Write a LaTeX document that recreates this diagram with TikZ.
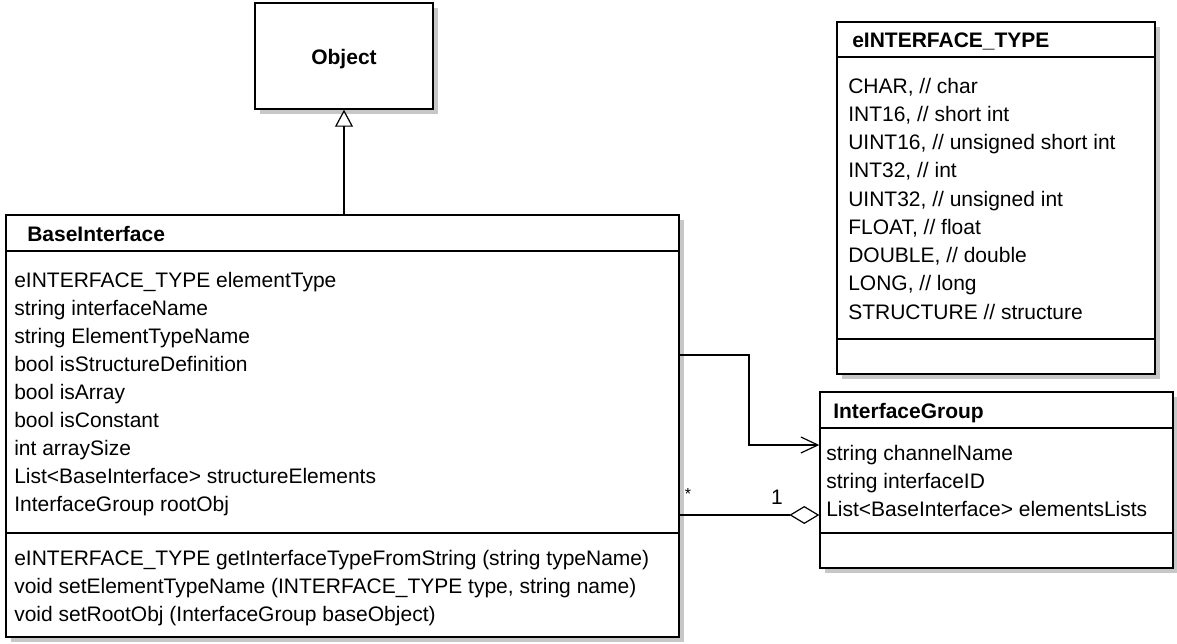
\documentclass[tikz,border=0pt]{standalone}
\usepackage{fontspec}
\setmainfont{Liberation Sans}
\usetikzlibrary{arrows.meta,fit,shadows}
\begin{document}
\begin{tikzpicture}[x=0.75pt,y=-0.75pt,
 box/.style={draw=black, line width=1.1pt, fill=white, inner sep=0pt,
   drop shadow={shadow xshift=3.5pt, shadow yshift=-3.5pt, fill=black!22, opacity=1}},
 txt/.style={anchor=base west, inner sep=0pt, font=\fontsize{15.75}{18}\selectfont},
 ttl/.style={txt, font=\fontsize{15.75}{18}\selectfont\bfseries},
 sep/.style={line width=1.1pt},
 conn/.style={line width=0.9pt},
 mult/.style={inner sep=0pt, font=\fontsize{15.75}{18}\selectfont}]
\useasboundingbox (0,0) rectangle (1177,643);

% boxes
\node[box, fit={(255,3)(433,109)}] (obj) {};
\node[box, fit={(6,215)(679,637)}] (bi) {};
\node[box, fit={(837,22)(1155,374)}] (et) {};
\node[box, fit={(820,392)(1173,568)}] (ig) {};

% compartment separators
\draw[sep] (6,251) -- (679,251);
\draw[sep] (6,533) -- (679,533);
\draw[sep] (837,57) -- (1155,57);
\draw[sep] (837,339) -- (1155,339);
\draw[sep] (820,428) -- (1173,428);
\draw[sep] (820,533) -- (1173,533);

% titles
\node[ttl, anchor=base] (objt) at (344,64) {Object};
\node[ttl] (bit) at (27,241) {BaseInterface};
\node[ttl] (ett) at (852,47) {eINTERFACE\_TYPE};
\node[ttl] (igt) at (833,418) {InterfaceGroup};

% BaseInterface attributes
\foreach \t [count=\i] in {eINTERFACE\_TYPE elementType, string interfaceName, string ElementTypeName,
  bool isStructureDefinition, bool isArray, bool isConstant, int arraySize,
  List<BaseInterface> structureElements, InterfaceGroup rootObj}
  \node[txt] (ba\i) at (14,259+28*\i) {\t};
% BaseInterface methods
\foreach \t [count=\i] in {eINTERFACE\_TYPE getInterfaceTypeFromString (string typeName),
  {void setElementTypeName (INTERFACE\_TYPE type, string name)},
  void setRootObj (InterfaceGroup baseObject)}
  \node[txt] (bm\i) at (14,537+28*\i) {\t};
% enum values
\foreach \t [count=\i] in {{CHAR, // char}, {INT16, // short int}, {UINT16, // unsigned short int},
  {INT32, // int}, {UINT32, // unsigned int}, {FLOAT, // float}, {DOUBLE, // double},
  {LONG, // long}, STRUCTURE // structure}
  \node[txt] (ev\i) at (848,64.75+28.25*\i) {\t};
% InterfaceGroup attributes
\foreach \t [count=\i] in {string channelName, string interfaceID, List<BaseInterface> elementsLists}
  \node[txt] (ia\i) at (826,432+28*\i) {\t};

% generalization
\draw[conn, -{Triangle[open,length=12.75pt,width=13.5pt]}] (bi.north -| obj.south) -- (obj.south);

% association
\coordinate (a1) at (749,355);
\coordinate (a2) at (749,445);
\draw[conn, -{Straight Barb[length=12.75pt,width=12pt]}] (bi.east |- a1) -- (a1) -- (a2) -- (ig.west |- a2);

% aggregation
\coordinate (d1) at (749,515);
\draw[conn, {Diamond[open,length=22.5pt,width=13.5pt]}-] (ig.west |- d1) -- (bi.east |- d1);
\node[mult, font=\fontsize{12}{14}\selectfont] (m1) at (688,494) {*};
\node[mult] (m2) at (777,497) {1};
\end{tikzpicture}
\end{document}
